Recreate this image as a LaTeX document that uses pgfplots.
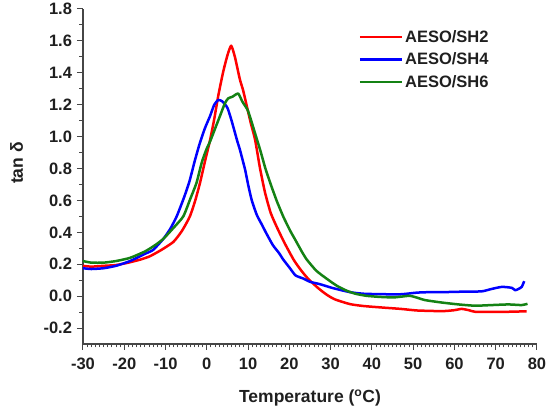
\documentclass[border=0pt]{standalone}
\usepackage{fontspec}
\setmainfont{Liberation Sans}
\usepackage{pgfplots}
\pgfplotsset{compat=1.18}
\definecolor{cred}{RGB}{255,0,0}
\definecolor{cblue}{RGB}{0,0,255}
\definecolor{cgreen}{RGB}{20,130,20}
\definecolor{axgray}{RGB}{70,70,70}
\begin{document}
\begin{tikzpicture}
\path[use as bounding box] (0,0) rectangle (550pt,412pt);
\begin{axis}[
  at={(83pt,68pt)}, anchor=south west,
  width=454pt, height=335pt, scale only axis,
  xmin=-30, xmax=80, ymin=-0.3, ymax=1.8,
  axis x line*=bottom, axis y line*=left,
  axis line style={axgray, line width=1.3pt},
  every tick/.style={axgray, line width=1pt},
  tick align=outside,
  major tick length=6pt, minor tick length=3.5pt,
  xtick={-30,-20,-10,0,10,20,30,40,50,60,70,80},
  xticklabels={-30,-20,-10,0,10,20,30,40,50,60,70,80},
  minor x tick num=9,
  ytick={-0.2,0,0.2,0.4,0.6,0.8,1.0,1.2,1.4,1.6,1.8},
  yticklabels={-0.2,0.0,0.2,0.4,0.6,0.8,1.0,1.2,1.4,1.6,1.8},
  minor y tick num=1,
  ticklabel style={font=\bfseries\fontsize{16.5}{19}\selectfont, text=black!88},
  xticklabel style={yshift=-4pt},
  yticklabel style={xshift=-1.5pt},
  label style={font=\bfseries\fontsize{17.5}{20}\selectfont, text=black!88},
  xlabel={Temperature (\textsuperscript{o}C)},
  ylabel={tan δ},
  xlabel style={at={(axis description cs:0.5,-0.161)}, anchor=center},
  ylabel style={at={(axis description cs:-0.146,0.54)}, anchor=center},
  legend style={at={(axis description cs:0.60,0.949)}, anchor=north west, draw=none, fill=none,
    font=\bfseries\fontsize{16.5}{19}\selectfont, text=black!88, row sep=5pt},
  legend cell align=left,
  legend image code/.code={\draw[#1, line width=2.5pt] (0pt,0pt) -- (42pt,0pt);},
  every axis plot/.append style={line width=2.5pt, line join=round, smooth, tension=0.35},
]
\addplot[cred] coordinates {
(-30,0.19) (-28,0.185) (-25,0.19) (-22,0.195) (-19,0.21) (-16,0.23) (-13.8,0.25)
(-11,0.29) (-8.1,0.34) (-6,0.41) (-4.1,0.50) (-2.8,0.60) (-1.65,0.71) (-0.4,0.85)
(0.8,0.98) (1.8,1.11) (2.8,1.26) (4,1.41) (5,1.51) (5.9,1.57) (6.8,1.50) (8.0,1.36)
(8.8,1.29) (9.7,1.19) (10.7,1.08) (11.7,0.98) (12.9,0.80) (14.1,0.65) (15.5,0.52)
(17.2,0.42) (18.9,0.33) (21,0.23) (22.6,0.17) (24.5,0.11) (27,0.05) (29,0.01)
(31,-0.02) (34.7,-0.05) (38,-0.062) (42.8,-0.072) (47,-0.08) (51,-0.09) (57,-0.094)
(60,-0.088) (61.7,-0.08) (63.5,-0.088) (65,-0.098) (70,-0.098) (73,-0.098) (77.5,-0.095)
};
\addlegendentry{AESO/SH2}
\addplot[cblue] coordinates {
(-30,0.175) (-28,0.17) (-25,0.175) (-22,0.19) (-18.6,0.22) (-15,0.265) (-13,0.29)
(-10.5,0.36) (-8.9,0.42) (-7.3,0.50) (-5.5,0.62) (-4.2,0.72) (-3.0,0.84) (-1.8,0.95)
(-0.5,1.05) (0.8,1.13) (1.8,1.20) (2.8,1.23) (3.8,1.22) (5,1.18) (6,1.10) (7.4,0.97)
(8.0,0.92) (9.3,0.79) (10.0,0.70) (10.9,0.60) (12.1,0.51) (13.3,0.45) (14.5,0.39)
(16,0.32) (17.5,0.27) (18.5,0.23) (20,0.18) (21.5,0.13) (23.4,0.11) (25,0.09)
(27.4,0.075) (30.6,0.05) (34.7,0.025) (38,0.015) (42.8,0.012) (47.2,0.012) (50.9,0.022)
(54,0.025) (57,0.025) (62,0.028) (66.6,0.03) (69,0.045) (71.5,0.058) (73.9,0.052)
(74.7,0.037) (75.5,0.045) (76.3,0.058) (76.9,0.094)
};
\addlegendentry{AESO/SH4}
\addplot[cgreen] coordinates {
(-30,0.22) (-28,0.21) (-25,0.21) (-22,0.22) (-18.6,0.24) (-15,0.28) (-12.5,0.32)
(-10.5,0.36) (-8,0.43) (-5.7,0.50) (-4,0.61) (-2.5,0.71) (-1.2,0.84) (-0.1,0.92)
(0.8,0.97) (2.0,1.05) (3.2,1.13) (4.4,1.21) (5.2,1.24) (6.2,1.25) (7.6,1.27) (8.6,1.22)
(10.0,1.16) (11.7,1.02) (13.0,0.91) (14.2,0.80) (15.5,0.70) (16.9,0.60) (18.5,0.50)
(20.2,0.41) (21.5,0.35) (23,0.28) (24.2,0.23) (26.5,0.16) (29,0.11) (31.5,0.065)
(33.9,0.034) (36,0.015) (38.7,0.002) (42,-0.005) (45.2,-0.008) (47.5,-0.002) (49.2,0.002)
(51,-0.01) (52.9,-0.025) (56.9,-0.04) (61,-0.052) (65,-0.06) (69,-0.056) (73.1,-0.052)
(76.3,-0.056) (77.7,-0.048)
};
\addlegendentry{AESO/SH6}
\end{axis}
\end{tikzpicture}
\end{document}
